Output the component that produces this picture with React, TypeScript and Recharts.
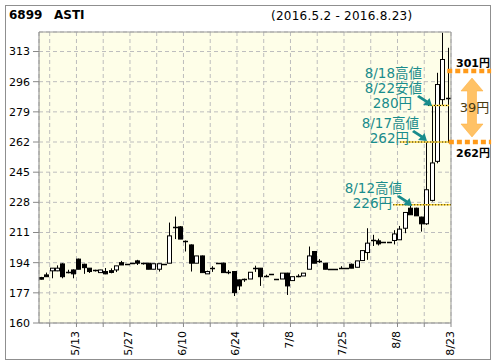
import { ComposedChart, Bar, XAxis, YAxis, CartesianGrid, ReferenceLine } from "recharts";

// trading days 2016.5.2 - 2016.8.23
const dates = [
  "5/2", "5/6", "5/9", "5/10", "5/11", "5/12", "5/13", "5/16", "5/17", "5/18",
  "5/19", "5/20", "5/23", "5/24", "5/25", "5/26", "5/27", "5/30", "5/31", "6/1",
  "6/2", "6/3", "6/6", "6/7", "6/8", "6/9", "6/10", "6/13", "6/14", "6/15",
  "6/16", "6/17", "6/20", "6/21", "6/22", "6/23", "6/24", "6/27", "6/28", "6/29",
  "6/30", "7/1", "7/4", "7/5", "7/6", "7/7", "7/8", "7/11", "7/12", "7/13",
  "7/14", "7/15", "7/19", "7/20", "7/21", "7/22", "7/25", "7/26", "7/27", "7/28",
  "7/29", "8/1", "8/2", "8/3", "8/4", "8/5", "8/8", "8/9", "8/10", "8/12",
  "8/15", "8/16", "8/17", "8/18", "8/19", "8/22", "8/23",
];
const opens = [
  185.6, 187.1, 189.4, 189.4, 193.3, 189, 189.9, 196, 193.1, 190.9,
  189.9, 188.4, 189, 189.5, 189.9, 194, 193.1, 193.7, 195, 193.7,
  193.7, 190.3, 190.3, 193.3, 193.7, 214, 214.2, 206, 204, 193.7,
  197.8, 187.7, 190.9, 193.7, 193.7, 189, 189, 184.3, 184.7, 184.8,
  190.9, 190.9, 186.7, 187.7, 184.8, 184.8, 188.1, 183.9, 186.7, 186.5,
  190.3, 200.3, 195, 193.7, 190.5, 190.5, 190.9, 190.9, 193.1, 191.4,
  195.2, 199.7, 206.9, 206.3, 205.9, 205.6, 206.5, 206.9, 213.4, 224.7,
  224.7, 219.7, 215.9, 229.1, 251.1, 285.9, 287,
];
const highs = [
  186, 188.4, 191, 192.5, 193.7, 190, 190.2, 196.3, 193.4, 191,
  190, 190, 191, 190.8, 192.2, 195, 193.1, 193.7, 195.6, 194,
  193.9, 193.4, 193.4, 193.3, 216.6, 220, 214.6, 206.5, 204.3, 197.8,
  198, 189.5, 192, 193.7, 194, 189.8, 189.2, 184.5, 185, 188.6,
  192.3, 191, 187.2, 187.7, 184.8, 188.1, 188.3, 186.1, 187.5, 188.1,
  203.1, 200.5, 196, 193.9, 190.5, 190.5, 192, 190.9, 193.5, 195,
  200.8, 213.4, 209.7, 207.5, 205.9, 205.6, 212.3, 214.7, 222.5, 226.6,
  225, 219.9, 262, 282.6, 301, 323.6, 315.1,
];
const lows = [
  184.5, 186, 185.2, 189.2, 185.2, 188, 185.2, 190.3, 187.7, 188.2,
  189, 188.4, 187.5, 188, 188.7, 192.7, 193.1, 193.7, 192.7, 192.9,
  190.3, 190.3, 189, 193.3, 193.7, 207.3, 207.3, 200.3, 189, 193.7,
  188.4, 187.7, 188.8, 193.7, 188.4, 187.5, 175.2, 178.6, 183.2, 184.8,
  188.8, 180.9, 185.8, 187.7, 184.8, 184.8, 175.8, 183.9, 185.8, 186.5,
  190.3, 193.7, 193.9, 190.3, 190.5, 190.5, 190.5, 190.9, 190.9, 191.4,
  195.2, 195.6, 203.4, 203.7, 205.9, 205.6, 204.3, 206.9, 210.6, 221,
  220.4, 211.5, 215.3, 228.5, 250, 282.7, 262,
];
const closes = [
  184.7, 186.1, 190.9, 190.9, 186.1, 189, 187.7, 190.3, 191.2, 189,
  189.2, 189.9, 187.7, 188.5, 192.2, 192.7, 193.1, 193.7, 193.7, 193,
  190.3, 193.4, 193.4, 193.3, 209.1, 214, 207.3, 205.9, 193.7, 197.8,
  188.4, 189, 190.9, 193.7, 188.4, 189, 177.1, 180.9, 184.7, 188.6,
  190.9, 186.1, 186.7, 187.7, 184.8, 188.1, 180.9, 186.1, 186.7, 188.1,
  197.8, 193.7, 195, 190.3, 190.5, 190.5, 190.9, 190.9, 190.9, 195,
  200.8, 205, 206.9, 204.6, 205.9, 205.6, 210.2, 212.9, 222.3, 221,
  220.4, 215.9, 235.1, 250.2, 294.4, 308.5, 286.5,
];

const yTicks = [160, 177, 194, 211, 228, 245, 262, 279, 296, 313];
const xTicks = [2, 7, 12, 17, 22, 27, 32, 37, 42, 47, 52, 57, 62, 67, 72, 77];

const rows = dates.map((d, i) => ({
  date: d,
  pos: i + 0.5,
  range: [lows[i], highs[i]],
  open: opens[i],
  high: highs[i],
  low: lows[i],
  close: closes[i],
}));

const TEAL = "#198c8c";
const ORANGE = "#ff9a1a";
const FONT = "'DejaVu Sans', Verdana, sans-serif";
const JP = "'DejaVu Sans', 'Noto Sans CJK JP', sans-serif";

function Candle(props: any) {
  const { x, y, width, height, payload } = props;
  if (!payload) return null;
  const { open, close, high, low } = payload;
  const cx = Math.floor(x + width / 2);
  const k = high > low ? height / (high - low) : 0;
  const yOf = (v: number) => y + (high - v) * k;
  const top = yOf(Math.max(open, close));
  const bot = yOf(Math.min(open, close));
  const up = close >= open;
  return (
    <g>
      {height > 0 && <line x1={cx + 0.5} x2={cx + 0.5} y1={y} y2={y + height} stroke="#000" />}
      {bot - top < 1.5 ? (
        <line x1={cx - 2} x2={cx + 3} y1={Math.round(top) + 0.5} y2={Math.round(top) + 0.5} stroke="#000" strokeWidth={1.5} />
      ) : (
        <rect x={cx - 1.5} y={top} width={4} height={bot - top} fill={up ? "#fff" : "#000"} stroke="#000" />
      )}
    </g>
  );
}

function DateTick(props: any) {
  const { x, y, payload } = props;
  const t = payload.value as number;
  const label = (t - 7) % 10 === 0 ? dates[t - 1] : "";
  return (
    <g transform={`translate(${x + 2.5},${y + 2}) rotate(-90)`}>
      <text textAnchor="end" fontSize={11} fontFamily={FONT} fill="#000">{label}</text>
    </g>
  );
}

function Note({ x, y, lines, widths }: { x: number; y: number; lines: string[]; widths: number[] }) {
  return (
    <>
      {lines.map((s, i) => (
        <text key={i} x={x - widths[i]} y={y + i * 15} textAnchor="end" fontSize={13.5} fontFamily={JP} fill={TEAL}>{s}</text>
      ))}
    </>
  );
}

function Arrow({ x, y }: { x: number; y: number }) {
  // small teal arrow pointing down-right, tip at (x, y)
  return (
    <polygon
      points={`${x},${y} ${x - 9},${y - 1} ${x - 6.5},${y - 3.5} ${x - 15},${y - 9} ${x - 13},${y - 11} ${x - 4.5},${y - 5.5} ${x - 2.5},${y - 8}`}
      fill={TEAL}
    />
  );
}

export default function App() {
  return (
    <div style={{ position: "absolute", left: 0, top: 0, width: 496, height: 364, background: "#fff" }}>
      <div style={{ position: "absolute", left: 5, top: 5, width: 484, height: 353, border: "1px solid #8f8f8f" }} />
      <div style={{ position: "absolute", left: 9, top: 8, fontFamily: FONT, fontSize: 12, fontWeight: "bold" }}>6899</div>
      <div style={{ position: "absolute", left: 54, top: 8, fontFamily: FONT, fontSize: 12, fontWeight: "bold" }}>ASTI</div>
      <div style={{ position: "absolute", left: 271, top: 9, fontFamily: FONT, fontSize: 12, letterSpacing: 0.25 }}>(2016.5.2 - 2016.8.23)</div>
      <div style={{ position: "absolute", left: 0, top: 0 }}>
        <ComposedChart width={496} height={364} data={rows} margin={{ top: 32, right: 45, bottom: 11, left: 9 }}>
          <CartesianGrid stroke="#bdbdbd" strokeDasharray="4 3" fill="#fefee8" />
          <XAxis xAxisId="c" dataKey="date" hide />
          <XAxis
            dataKey="pos"
            type="number"
            domain={[0, 77]}
            ticks={xTicks}
            interval={0}
            height={30}
            tickSize={4}
            stroke="#888"
            tick={<DateTick />}
            allowDataOverflow
          />
          <YAxis
            type="number"
            domain={[160, 324]}
            ticks={yTicks}
            interval={0}
            width={30}
            tickSize={6}
            tickMargin={3}
            stroke="#888"
            tick={{ fill: "#000", fontSize: 11, fontFamily: FONT }}
            allowDataOverflow
          />
          <ReferenceLine y={324} stroke="#999" />
          <ReferenceLine x={77} stroke="#999" />
          <Bar xAxisId="c" dataKey="range" barSize={5} isAnimationActive={false} shape={(p: any) => <Candle {...p} />} />
          <ReferenceLine segment={[{ x: 66.2, y: 226.6 }, { x: 77, y: 226.6 }]} stroke="#ffd633" strokeWidth={1.5} ifOverflow="visible" />
          <ReferenceLine segment={[{ x: 66.2, y: 226.6 }, { x: 77, y: 226.6 }]} stroke="#000" strokeDasharray="1 2" ifOverflow="visible" />
          <ReferenceLine segment={[{ x: 67.5, y: 262 }, { x: 77, y: 262 }]} stroke="#ffd633" strokeWidth={1.5} ifOverflow="visible" />
          <ReferenceLine segment={[{ x: 67.5, y: 262 }, { x: 77, y: 262 }]} stroke="#000" strokeDasharray="1 2" ifOverflow="visible" />
          <ReferenceLine segment={[{ x: 72.7, y: 282.6 }, { x: 76.6, y: 282.6 }]} stroke="#ffd633" strokeWidth={1.5} ifOverflow="visible" />
          <ReferenceLine segment={[{ x: 72.7, y: 282.6 }, { x: 76.6, y: 282.6 }]} stroke="#000" strokeDasharray="1 2" ifOverflow="visible" />
          <ReferenceLine segment={[{ x: 76.3, y: 302 }, { x: 84.5, y: 302 }]} stroke={ORANGE} strokeWidth={4.5} strokeDasharray="5 3" ifOverflow="visible" />
          <ReferenceLine segment={[{ x: 76.6, y: 262 }, { x: 84.5, y: 262 }]} stroke={ORANGE} strokeWidth={4.5} strokeDasharray="5 3" ifOverflow="visible" />
        </ComposedChart>
      </div>
      <svg width={496} height={364} style={{ position: "absolute", left: 0, top: 0 }}>
        <Note x={422} y={78} lines={["8/18高値", "8/22安値", "280円"]} widths={[0, 0, 10]} />
        <Arrow x={432} y={106} />
        <Note x={419} y={128} lines={["8/17高値", "262円"]} widths={[0, 10]} />
        <Arrow x={427} y={141} />
        <Note x={402} y={193} lines={["8/12高値", "226円"]} widths={[0, 10]} />
        <Arrow x={412} y={206} />
        <polygon
          points="472,78 483,91 476.5,91 476.5,124 483,124 472,137 461,124 467.5,124 467.5,91 461,91"
          fill="#ffc266"
          stroke="#ffaa33"
          strokeWidth={0.5}
        />
        <text x={474.5} y={112} textAnchor="middle" fontSize={13} fontFamily={JP} fill="#4a3a10">39円</text>
        <text x={456} y={67} fontSize={11} fontWeight="bold" fontFamily={JP} fill="#000">301円</text>
        <text x={456} y={157} fontSize={11} fontWeight="bold" fontFamily={JP} fill="#000">262円</text>
      </svg>
    </div>
  );
}
